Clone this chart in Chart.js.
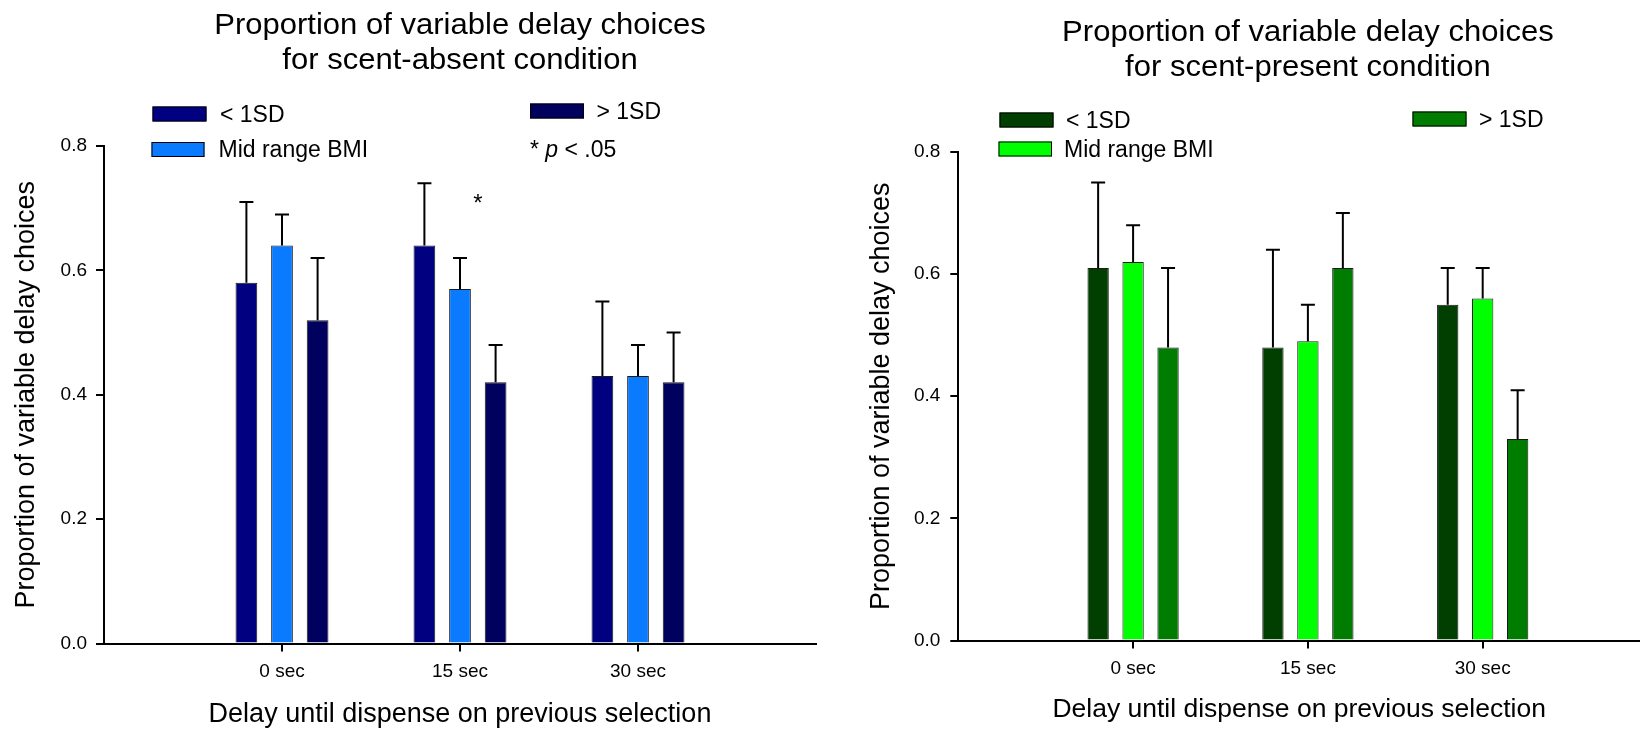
<!DOCTYPE html>
<html>
<head>
<meta charset="utf-8">
<title>Proportion of variable delay choices</title>
<script src="https://cdn.jsdelivr.net/npm/chart.js@4.4.1/dist/chart.umd.min.js"></script>
<style>
  html, body { margin: 0; padding: 0; background: #ffffff; }
  #stage { position: relative; width: 1640px; height: 731px; overflow: hidden; background: #ffffff; }
  #stage canvas { position: absolute; top: 0; }
</style>
</head>
<body>
<div id="stage">
  <canvas id="absent" width="820" height="731" style="left:0px"></canvas>
  <canvas id="present" width="800" height="731" style="left:840px"></canvas>
</div>
<script>
// ---- data -------------------------------------------------------------
const delayLabels = ['0 sec', '15 sec', '30 sec'];
const groupNames = ['< 1SD', 'Mid range BMI', '> 1SD'];
const yTickValues = [0, 0.2, 0.4, 0.6, 0.8];

// scent-absent condition: means and standard errors per BMI group
const absentBelow = [0.58, 0.64, 0.43];
const absentMid = [0.64, 0.57, 0.43];
const absentAbove = [0.52, 0.42, 0.42];
const absentBelowSE = [0.13, 0.10, 0.12];
const absentMidSE = [0.05, 0.05, 0.05];
const absentAboveSE = [0.10, 0.06, 0.08];

// scent-present condition
const presentBelow = [0.61, 0.48, 0.55];
const presentMid = [0.62, 0.49, 0.56];
const presentAbove = [0.48, 0.61, 0.33];
const presentBelowSE = [0.14, 0.16, 0.06];
const presentMidSE = [0.06, 0.06, 0.05];
const presentAboveSE = [0.13, 0.09, 0.08];

// ---- drawing helpers --------------------------------------------------
const FONT = '"Liberation Sans", Arial, Helvetica, sans-serif';

// Upward standard-error whiskers with a cap, drawn from each bar top.
const errorBarPlugin = {
  id: 'errorBars',
  afterDatasetsDraw(chart, args, opts) {
    const ctx = chart.ctx;
    const y = chart.scales.y;
    ctx.save();
    ctx.strokeStyle = opts.color;
    ctx.lineWidth = opts.lineWidth;
    chart.data.datasets.forEach((ds, k) => {
      const meta = chart.getDatasetMeta(k);
      meta.data.forEach((bar, i) => {
        const top = y.getPixelForValue(ds.data[i].y + ds.se[i]);
        const half = opts.capWidth / 2;
        ctx.beginPath();
        ctx.moveTo(bar.x, bar.y);
        ctx.lineTo(bar.x, top);
        ctx.moveTo(bar.x - half, top);
        ctx.lineTo(bar.x + half, top);
        ctx.stroke();
      });
    });
    ctx.restore();
  }
};

// Two-line panel heading, grouped legend and significance marker.
const panelHeaderPlugin = {
  id: 'panelHeader',
  afterDraw(chart, args, opts) {
    const ctx = chart.ctx;
    const xs = chart.scales.x;
    const ys = chart.scales.y;
    ctx.save();
    ctx.fillStyle = '#000';

    // heading, centred over the middle delay group
    const cx = xs.getPixelForValue(2);
    ctx.font = opts.titleSize + 'px ' + FONT;
    ctx.textAlign = 'center';
    ctx.textBaseline = 'alphabetic';
    opts.title.forEach((line, j) => {
      ctx.save();
      ctx.translate(cx, opts.titleBaselines[j]);
      ctx.scale(opts.titleStretch, 1);
      ctx.fillText(line, 0, 0);
      ctx.restore();
    });

    // legend swatches
    ctx.font = opts.legendSize + 'px ' + FONT;
    ctx.textAlign = 'left';
    opts.legend.forEach((entry, k) => {
      const ds = chart.data.datasets[k];
      const s = entry.swatch;
      ctx.fillStyle = ds.backgroundColor;
      ctx.fillRect(s[0], s[1], s[2], s[3]);
      ctx.strokeStyle = '#000';
      ctx.lineWidth = 1;
      ctx.strokeRect(s[0] + 0.5, s[1] + 0.5, s[2] - 1, s[3] - 1);
      ctx.fillStyle = '#000';
      ctx.fillText(ds.label, entry.text[0], entry.text[1]);
    });

    // significance note: "* p < .05"
    if (opts.note) {
      let x = opts.note.at[0];
      const yb = opts.note.at[1];
      opts.note.parts.forEach(part => {
        ctx.font = (part.italic ? 'italic ' : '') + opts.legendSize + 'px ' + FONT;
        ctx.fillText(part.text, x, yb);
        x += ctx.measureText(part.text).width;
      });
    }

    // significance marker between two bars of one delay group
    if (opts.sig) {
      const a = chart.getDatasetMeta(opts.sig.between[0]).data[opts.sig.group];
      const b = chart.getDatasetMeta(opts.sig.between[1]).data[opts.sig.group];
      ctx.font = opts.sig.size + 'px ' + FONT;
      ctx.textAlign = 'center';
      ctx.fillText(opts.sig.text, (a.x + b.x) / 2, ys.getPixelForValue(opts.sig.level));
    }
    ctx.restore();
  }
};

function makePanel(canvasId, cfg) {
  const datasets = cfg.series.map((s, k) => ({
    label: groupNames[k],
    data: s.values.map((v, i) => ({ x: i + 1, y: v })),
    se: s.se,
    backgroundColor: cfg.colors[k],
    borderColor: '#1a1a1a',
    borderWidth: 1,
    categoryPercentage: 0.6,
    barPercentage: 0.61
  }));

  return new Chart(document.getElementById(canvasId), {
    type: 'bar',
    data: { datasets },
    options: {
      responsive: false,
      animation: false,
      events: [],
      layout: { padding: { top: cfg.areaTop, right: cfg.padRight, left: 0, bottom: 0 } },
      plugins: {
        legend: { display: false },
        title: { display: false },
        tooltip: { enabled: false },
        errorBars: { color: '#000', lineWidth: 2, capWidth: 14 },
        panelHeader: cfg.header
      },
      scales: {
        x: {
          type: 'linear',
          min: 0,
          max: cfg.xMax,
          offset: false,
          grid: { offset: false, drawOnChartArea: false, drawTicks: true, tickLength: 8, color: '#000', lineWidth: 2 },
          border: { display: true, color: '#000', width: 2 },
          afterBuildTicks: scale => { scale.ticks = delayLabels.map((_, i) => ({ value: i + 1 })); },
          afterFit: scale => { scale.height = cfg.xHeight; },
          ticks: {
            autoSkip: false,
            maxRotation: 0,
            padding: 8.5,
            color: '#000',
            font: { family: FONT, size: 19 },
            callback: v => delayLabels[v - 1]
          },
          title: {
            display: true,
            text: 'Delay until dispense on previous selection',
            color: '#000',
            font: { family: FONT, size: cfg.xTitleSize },
            padding: { top: 0, bottom: cfg.xTitlePad }
          }
        },
        y: {
          min: yTickValues[0],
          max: yTickValues[yTickValues.length - 1],
          grid: { drawOnChartArea: false, drawTicks: true, tickLength: 8, color: '#000', lineWidth: 2 },
          border: { display: true, color: '#000', width: 2 },
          afterBuildTicks: scale => { scale.ticks = yTickValues.map(v => ({ value: v })); },
          afterFit: scale => { scale.width = cfg.yWidth; },
          ticks: {
            padding: cfg.yTickPad,
            color: '#000',
            font: { family: FONT, size: 19 },
            callback: v => Number(v).toFixed(1)
          },
          title: {
            display: true,
            text: 'Proportion of variable delay choices',
            color: '#000',
            font: { family: FONT, size: 27 },
            padding: { top: cfg.yTitlePad, bottom: 0 }
          }
        }
      }
    },
    plugins: [errorBarPlugin, panelHeaderPlugin]
  });
}

makePanel('absent', {
  series: [
    { values: absentBelow, se: absentBelowSE },
    { values: absentMid, se: absentMidSE },
    { values: absentAbove, se: absentAboveSE }
  ],
  colors: ['#000080', '#0a7bff', '#00005e'],
  areaTop: 146,
  padRight: 4,
  xMax: 4,
  xHeight: 87.5,
  xTitleSize: 27,
  xTitlePad: 0,
  yWidth: 104,
  yTickPad: 9,
  yTitlePad: 10.4,
  header: {
    title: ['Proportion of variable delay choices', 'for scent-absent condition'],
    titleSize: 29,
    titleStretch: 1.07,
    titleBaselines: [33.5, 68.5],
    legendSize: 23,
    legend: [
      { swatch: [152.5, 106.5, 54, 15], text: [220, 121.5] },
      { swatch: [151.5, 142, 53, 15], text: [218.5, 156.5] },
      { swatch: [530, 103.5, 54, 15], text: [596.5, 118.5] }
    ],
    note: { at: [530, 156.5], parts: [{ text: '* ' }, { text: 'p', italic: true }, { text: ' < .05' }] },
    sig: { text: '*', group: 1, between: [1, 2], level: 0.695, size: 24 }
  }
});

makePanel('present', {
  series: [
    { values: presentBelow, se: presentBelowSE },
    { values: presentMid, se: presentMidSE },
    { values: presentAbove, se: presentAboveSE }
  ],
  colors: ['#003f00', '#00ff00', '#007d00'],
  areaTop: 152,
  padRight: 0,
  xMax: 3.9,
  xHeight: 90.5,
  xTitleSize: 26.5,
  xTitlePad: 5,
  yWidth: 118.3,
  yTickPad: 10,
  yTitlePad: 25.4,
  header: {
    title: ['Proportion of variable delay choices', 'for scent-present condition'],
    titleSize: 29,
    titleStretch: 1.07,
    titleBaselines: [40.5, 76],
    legendSize: 23,
    legend: [
      { swatch: [159.5, 112.5, 54, 15], text: [226, 127.5] },
      { swatch: [158.5, 141.5, 53.5, 15], text: [224, 156.5] },
      { swatch: [572.5, 111.5, 54, 15], text: [639, 126.5] }
    ]
  }
});
</script>
</body>
</html>
